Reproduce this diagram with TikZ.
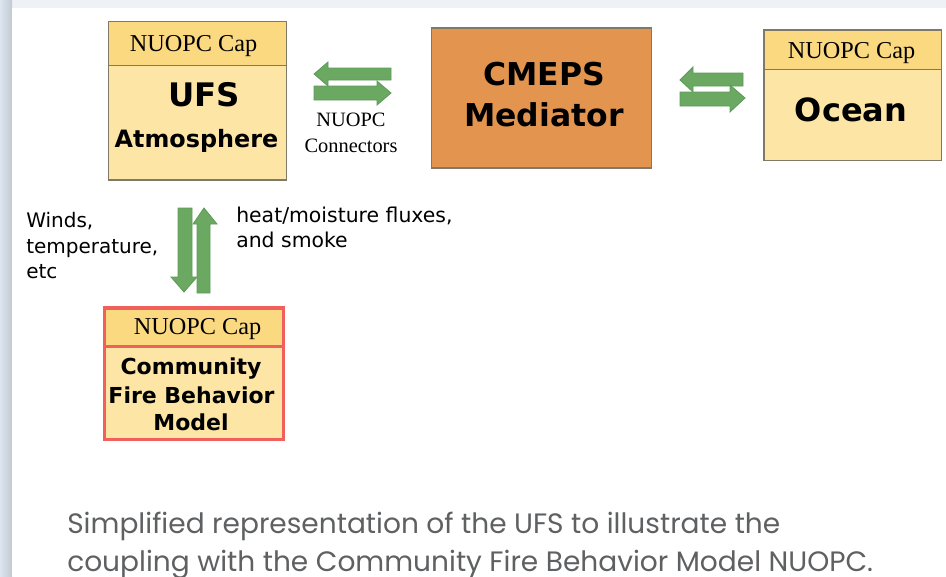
\documentclass[tikz,border=0pt]{standalone}
\usepackage{fontspec}
\setmainfont{Liberation Serif}
\newfontfamily\djv{DejaVu Sans}
\newfontfamily\djb{DejaVu Sans Bold}
\newfontfamily\pop{Poppins}
\definecolor{capfill}{HTML}{FBD981}
\definecolor{bodyfill}{HTML}{FDE5A6}
\definecolor{edgegray}{HTML}{7F7A68}
\definecolor{medfill}{HTML}{E3954F}
\definecolor{flowfill}{HTML}{6BA862}
\definecolor{flowedge}{HTML}{5C9A58}
\definecolor{firered}{HTML}{F2605C}
\definecolor{captext}{HTML}{5E6062}
\definecolor{backa}{HTML}{DCE6F0}
\definecolor{backb}{HTML}{EEF2F6}
\tikzset{
  x=0.75pt,y=-0.75pt,
  boxpart/.style={draw=edgegray,line width=1.1pt,rectangle,anchor=north west,inner sep=0pt,outer sep=0pt},
  capbox/.style={boxpart,fill=capfill},
  bodybox/.style={boxpart,fill=bodyfill},
  firecap/.style={capbox,draw=firered,line width=2.4pt},
  firebody/.style={bodybox,draw=firered,line width=2.4pt},
  medbox/.style={boxpart,fill=medfill},
  flow/.style={draw=flowedge,fill=flowfill,line width=0.6pt,line join=miter},
  captxt/.style={font=\fontsize{18.2pt}{20pt}\selectfont,text=black,inner sep=0pt},
  boldtxt/.style={font=\djb\fontsize{#1}{#1}\selectfont,text=black,inner sep=0pt,align=center},
  plain/.style={font=\djv\fontsize{#1}{18.8pt}\selectfont,text=black,inner sep=0pt,align=left,anchor=north west},
  conn/.style={font=\fontsize{15.3pt}{19.5pt}\selectfont,text=black,inner sep=0pt,align=center},
  caption/.style={font=\pop\fontsize{21.03pt}{28pt}\selectfont,text=captext,inner sep=0pt,anchor=base west},
}
\begin{document}
\begin{tikzpicture}
\useasboundingbox (0,0) rectangle (946,576);
\clip (0,0) rectangle (946,576);
\fill[backb] (0,0) rectangle (946,576);
\fill[left color=backa,right color=backa!60!gray!70!backa] (0,0) rectangle (12,576);
\fill[white] (12,8) rectangle (946,576);

% UFS atmosphere
\node[bodybox,minimum width=133.5pt,minimum height=119pt] (ufsbody) at (108.5,21.5) {};
\node[capbox,minimum width=133.5pt,minimum height=33pt] (ufscap) at (108.5,21.5) {};
\node[captxt] (ufscaptxt) at (193.5,46) {NUOPC Cap};
\node[boldtxt=24.3pt] (ufstxt) at (204,95) {UFS};
\node[boldtxt=17.9pt] (atmtxt) at (196.5,141) {Atmosphere};

% Mediator
\node[medbox,minimum width=165pt,minimum height=105pt] (med) at (431.5,28) {};
\node[boldtxt=23.6pt] (cmeps) at (544,74) {CMEPS};
\node[boldtxt=23.6pt] (medtxt) at (544,114.5) {Mediator};

% Ocean
\node[bodybox,minimum width=133pt,minimum height=98pt] (oceanbody) at (764,30) {};
\node[capbox,minimum width=133pt,minimum height=29.5pt] (oceancap) at (764,30) {};
\node[captxt] (oceancaptxt) at (851.5,53) {NUOPC Cap};
\node[boldtxt=24pt] (oceantxt) at (851,110) {Ocean};

% Fire model
\node[firebody,minimum width=134pt,minimum height=98.5pt] (firebodyn) at (104.5,308) {};
\node[firecap,minimum width=134pt,minimum height=29pt] (firecapn) at (104.5,308) {};
\node[captxt] (firecaptxt) at (197.5,329) {NUOPC Cap};
\node[boldtxt=16.5pt] (fire1) at (191,369) {Community};
\node[boldtxt=16.5pt] (fire2) at (191.5,395.5) {Fire Behavior};
\node[boldtxt=16.5pt] (fire3) at (191,422.5) {Model};

% Flow arrows: atmosphere <-> mediator
\draw[flow] (314,74) -- (328,62) -- (328,68) -- (391,68) -- (391,80) -- (328,80) -- (328,86) -- cycle;
\draw[flow] (391,93) -- (377,105) -- (377,100) -- (314,100) -- (314,86) -- (377,86) -- (377,81) -- cycle;
% mediator <-> ocean
\draw[flow] (680,80) -- (693,67) -- (693,73) -- (743,73) -- (743,86) -- (693,86) -- (693,92) -- cycle;
\draw[flow] (745,98) -- (730,112) -- (730,106) -- (680,106) -- (680,92) -- (730,92) -- (730,85) -- cycle;
% atmosphere <-> fire
\draw[flow] (184,292) -- (171,277) -- (178,277) -- (178,208) -- (192,208) -- (192,277) -- (197,277) -- cycle;
\draw[flow] (204,208) -- (217,224) -- (210,224) -- (210,293) -- (197,293) -- (197,224) -- (193,224) -- cycle;

% Labels
\node[conn] (connlabel) at (351,133) {NUOPC\\Connectors};
\node[plain=15pt] (winds) at (26,212.5) {Winds,\\temperature,\\etc};
\node[plain=15.3pt] (heat) at (236,207) {heat/moisture fluxes,\\and smoke};

% Caption
\node[caption] (cap1) at (67,533) {Simplified representation of the UFS to illustrate the};
\node[caption] (cap2) at (67,571) {coupling with the Community Fire Behavior Model NUOPC.};
\end{tikzpicture}
\end{document}
